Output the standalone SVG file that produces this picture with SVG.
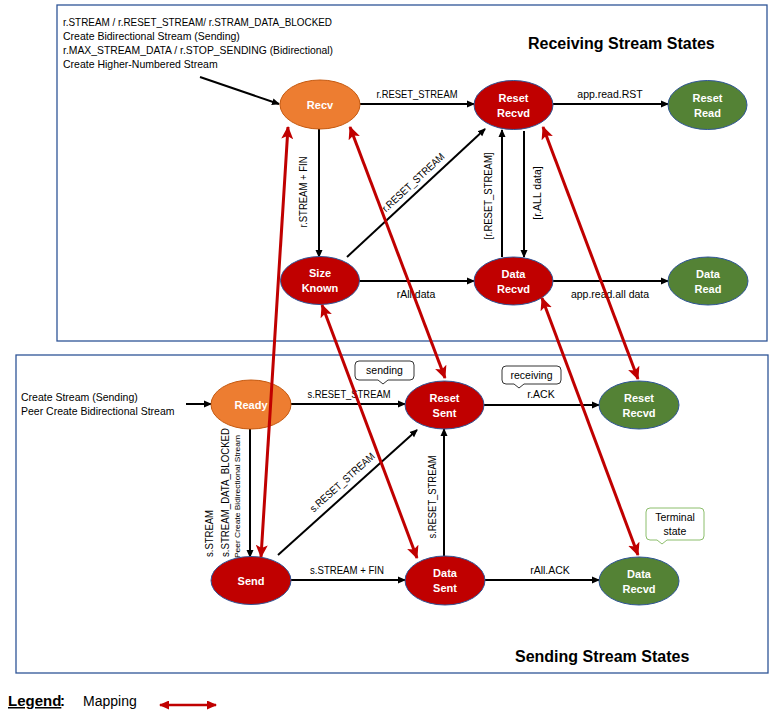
<svg xmlns="http://www.w3.org/2000/svg" width="781" height="718" viewBox="0 0 781 718">
<style>
text{font-family:"Liberation Sans",Arial,sans-serif;fill:#000}
.lbl{font-size:10.5px}
.sm{font-size:7.5px}
.nt{font-size:11px;font-weight:bold;fill:#fff;text-anchor:middle}
.ttl{font-size:16px;font-weight:bold}
.box{fill:none;stroke:#2F5597;stroke-width:1.3}
.orange{fill:#ED7D31;stroke:#C55A11;stroke-width:1}
.red{fill:#C00000;stroke:#2F5597;stroke-width:1}
.green{fill:#548235;stroke:#2F5597;stroke-width:1}
.bk{stroke:#000;stroke-width:2;fill:none;marker-end:url(#ab)}
.rd{stroke:#C00000;stroke-width:3;fill:none;marker-end:url(#ar);marker-start:url(#ar)}
.mid{text-anchor:middle}
</style>
<defs>
<marker id="ab" markerUnits="userSpaceOnUse" markerWidth="8" markerHeight="8" refX="7" refY="4" orient="auto"><path d="M0,0.5 L8,4 L0,7.5 z" fill="#000"/></marker>
<marker id="ar" markerUnits="userSpaceOnUse" markerWidth="14" markerHeight="12" refX="12" refY="6" orient="auto-start-reverse"><path d="M0,0 L13,6 L0,12 L3,6 z" fill="#C00000"/></marker>
<marker id="ar2" markerUnits="userSpaceOnUse" markerWidth="10" markerHeight="9" refX="9" refY="4.5" orient="auto-start-reverse"><path d="M0,0 L10,4.5 L0,9 z" fill="#C00000"/></marker>
</defs>

<rect class="box" x="57" y="5" width="710" height="336"/>
<rect class="box" x="16" y="355" width="752" height="318"/>
<text class="ttl" x="528" y="49">Receiving Stream States</text>
<text class="ttl" x="515" y="662">Sending Stream States</text>

<g id="intro-recv">
<text class="lbl" x="63" y="26" textLength="269" lengthAdjust="spacingAndGlyphs">r.STREAM / r.RESET_STREAM/ r.STRAM_DATA_BLOCKED</text>
<text class="lbl" x="63" y="40">Create Bidirectional Stream (Sending)</text>
<text class="lbl" x="63" y="54" textLength="270" lengthAdjust="spacingAndGlyphs">r.MAX_STREAM_DATA / r.STOP_SENDING (Bidirectional)</text>
<text class="lbl" x="63" y="68">Create Higher-Numbered Stream</text>
</g>
<g id="intro-send">
<text class="lbl" x="21" y="401">Create Stream (Sending)</text>
<text class="lbl" x="21" y="415">Peer Create Bidirectional Stream</text>
</g>

<g id="connectors">
<line class="bk" x1="200" y1="77" x2="279" y2="104"/>
<line class="bk" x1="360" y1="104" x2="474" y2="104"/>
<line class="bk" x1="553" y1="104" x2="668" y2="104"/>
<line class="bk" x1="319" y1="129" x2="319" y2="257"/>
<line class="bk" x1="347" y1="257" x2="485" y2="129"/>
<line class="bk" x1="502" y1="257" x2="502" y2="130"/>
<line class="bk" x1="524" y1="131" x2="524" y2="257"/>
<line class="bk" x1="359" y1="281" x2="474" y2="281"/>
<line class="bk" x1="553" y1="281" x2="668" y2="281"/>
<line class="bk" x1="186" y1="404" x2="211" y2="404"/>
<line class="bk" x1="291" y1="404" x2="405" y2="404"/>
<line class="bk" x1="484" y1="405" x2="599" y2="405"/>
<line class="bk" x1="250" y1="429" x2="250" y2="557"/>
<line class="bk" x1="278" y1="555" x2="417" y2="430"/>
<line class="bk" x1="291" y1="580" x2="405" y2="580"/>
<line class="bk" x1="444" y1="556" x2="444" y2="429"/>
<line class="bk" x1="485" y1="580" x2="599" y2="580"/>

<text class="lbl mid" x="417" y="98" textLength="81" lengthAdjust="spacingAndGlyphs">r.RESET_STREAM</text>
<text class="lbl mid" x="610" y="98">app.read.RST</text>
<text class="lbl mid" transform="translate(307,192) rotate(-90)" textLength="71" lengthAdjust="spacingAndGlyphs">r.STREAM + FIN</text>
<text class="lbl mid" transform="translate(413,182) rotate(-43)" y="4" textLength="81" lengthAdjust="spacingAndGlyphs">r.RESET_STREAM</text>
<text class="lbl mid" transform="translate(492,196) rotate(-90)" textLength="87" lengthAdjust="spacingAndGlyphs">[r.RESET_STREAM]</text>
<text class="lbl mid" transform="translate(541,193) rotate(-90)">[r.ALL data]</text>
<text class="lbl mid" x="416" y="298">rAll.data</text>
<text class="lbl mid" x="610" y="298">app.read.all data</text>
<text class="lbl mid" x="349" y="398" textLength="83" lengthAdjust="spacingAndGlyphs">s.RESET_STREAM</text>
<text class="lbl mid" x="541" y="398">r.ACK</text>
<text class="lbl" transform="translate(213,557) rotate(-90)" textLength="47" lengthAdjust="spacingAndGlyphs">s.STREAM</text>
<text class="lbl" transform="translate(229,557) rotate(-90)" textLength="129" lengthAdjust="spacingAndGlyphs">s.STREAM_DATA_BLOCKED</text>
<text class="sm" transform="translate(240,558) rotate(-90)" textLength="123" lengthAdjust="spacingAndGlyphs">Peer Create Bidirectional Stream</text>
<text class="lbl mid" transform="translate(342,482) rotate(-42)" y="4" textLength="83" lengthAdjust="spacingAndGlyphs">s.RESET_STREAM</text>
<text class="lbl mid" x="347" y="574" textLength="74" lengthAdjust="spacingAndGlyphs">s.STREAM + FIN</text>
<text class="lbl mid" transform="translate(436,497) rotate(-90)" textLength="83" lengthAdjust="spacingAndGlyphs">s.RESET_STREAM</text>
<text class="lbl mid" x="550" y="574">rAll.ACK</text>
</g>

<g id="recv"><ellipse class="orange" cx="320" cy="104.5" rx="40" ry="24.5"/><text class="nt" x="320" y="108.5">Recv</text></g>
<g id="reset-recvd-r"><ellipse class="red" cx="513.5" cy="105" rx="39.5" ry="24.5"/><text class="nt" x="513.5" y="102">Reset</text><text class="nt" x="513.5" y="117">Recvd</text></g>
<g id="reset-read"><ellipse class="green" cx="707.5" cy="105" rx="39.5" ry="24.5"/><text class="nt" x="707.5" y="102">Reset</text><text class="nt" x="707.5" y="117">Read</text></g>
<g id="size-known"><ellipse class="red" cx="320" cy="280.5" rx="39.5" ry="24"/><text class="nt" x="320" y="277">Size</text><text class="nt" x="320" y="292">Known</text></g>
<g id="data-recvd-r"><ellipse class="red" cx="513.5" cy="281" rx="39.5" ry="24"/><text class="nt" x="513.5" y="277.5">Data</text><text class="nt" x="513.5" y="292.5">Recvd</text></g>
<g id="data-read"><ellipse class="green" cx="708" cy="281" rx="40" ry="24"/><text class="nt" x="708" y="277.5">Data</text><text class="nt" x="708" y="292.5">Read</text></g>
<g id="ready"><ellipse class="orange" cx="251" cy="404.5" rx="40" ry="24.5"/><text class="nt" x="251" y="408.5">Ready</text></g>
<g id="reset-sent"><ellipse class="red" cx="444.5" cy="405" rx="39.5" ry="24"/><text class="nt" x="444.5" y="401.5">Reset</text><text class="nt" x="444.5" y="416.5">Sent</text></g>
<g id="reset-recvd-s"><ellipse class="green" cx="639" cy="405" rx="40" ry="24"/><text class="nt" x="639" y="401.5">Reset</text><text class="nt" x="639" y="416.5">Recvd</text></g>
<g id="send"><ellipse class="red" cx="251" cy="580.5" rx="40" ry="24"/><text class="nt" x="251" y="584.5">Send</text></g>
<g id="data-sent"><ellipse class="red" cx="445" cy="580.5" rx="40" ry="24.5"/><text class="nt" x="445" y="577">Data</text><text class="nt" x="445" y="592">Sent</text></g>
<g id="data-recvd-s"><ellipse class="green" cx="639" cy="581" rx="40" ry="24"/><text class="nt" x="639" y="577.5">Data</text><text class="nt" x="639" y="592.5">Recvd</text></g>

<g id="callouts">
<path d="M359,361 H410 Q414,361 414,365 V376 Q414,380 410,380 H388 L383,384 L378,380 H359 Q355,380 355,376 V365 Q355,361 359,361 Z" fill="#fff" stroke="#000" stroke-width="0.8"/>
<text class="lbl mid" x="384.5" y="374">sending</text>
<path d="M506,366 H557 Q561,366 561,370 V380 Q561,384 557,384 H524 L519,388 L514,384 H506 Q502,384 502,380 V370 Q502,366 506,366 Z" fill="#fff" stroke="#000" stroke-width="0.8"/>
<text class="lbl mid" x="531.5" y="379">receiving</text>
<path d="M650,508 H700 Q704,508 704,512 V536 Q704,540 700,540 H667 L662,544 L657,540 H650 Q646,540 646,536 V512 Q646,508 650,508 Z" fill="#fff" stroke="#70AD47" stroke-width="0.8"/>
<text class="lbl mid" x="675" y="521">Terminal</text>
<text class="lbl mid" x="675" y="535">state</text>
</g>

<g id="mappings">
<line class="rd" x1="288" y1="127" x2="261" y2="557"/>
<line class="rd" x1="350" y1="127" x2="445" y2="378"/>
<line class="rd" x1="543" y1="127" x2="638" y2="379"/>
<line class="rd" x1="322" y1="305" x2="417" y2="558"/>
<line class="rd" x1="542" y1="298" x2="638" y2="555"/>
</g>

<g id="legend">
<text x="8" y="706" style="font-size:15px;font-weight:bold;text-decoration:underline">Legend</text>
<text x="60" y="706" style="font-size:15px;font-weight:bold">:</text>
<text x="83" y="706" style="font-size:14px">Mapping</text>
<line x1="160" y1="705" x2="216" y2="705" stroke="#C00000" stroke-width="2.5" marker-start="url(#ar2)" marker-end="url(#ar2)"/>
</g>
</svg>
